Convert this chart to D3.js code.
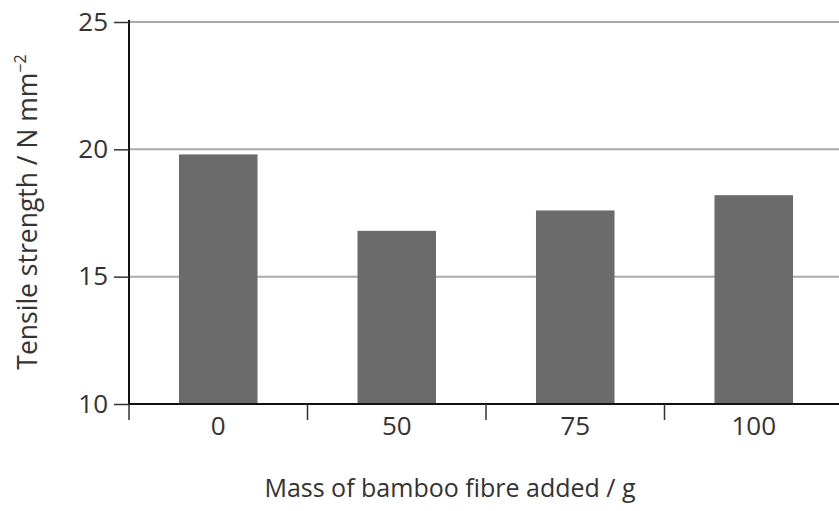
<!DOCTYPE html>
<html>
<head>
<meta charset="utf-8">
<script src="https://cdn.jsdelivr.net/npm/d3@7"></script>
<style>
  body { margin: 0; background: #fff; }
  svg { display: block; font-family: 'Open Sans', sans-serif; }
  .tick text { fill: #333; }
</style>
</head>
<body>
<svg></svg>
<script>
const masses = ['0', '50', '75', '100'];
const strengths = [19.8, 16.8, 17.6, 18.2];
const yTicks = [10, 15, 20, 25];

const svg = d3.select('svg')
	.attr('width', 839)
	.attr('height', 511);

let plotLeft = 129,
	plotRight = 843,
	plotTop = 22,
	plotBottom = 404;

const xScale = d3.scaleBand()
	.domain(masses)
	.range([plotLeft, plotRight])
	.paddingInner(0.56)
	.paddingOuter(0.28);

const yScale = d3.scaleLinear()
	.domain([10, 25])
	.range([plotBottom, plotTop]);

// grey gridlines
svg.append('g')
	.selectAll('line')
	.data(yTicks.slice(1))
	.enter().append('line')
	.attr('x1', plotLeft)
	.attr('x2', 839)
	.attr('y1', d => yScale(d))
	.attr('y2', d => yScale(d))
	.attr('stroke', '#aaaaaa')
	.attr('stroke-width', 2);

// bars
svg.append('g')
	.selectAll('rect')
	.data(masses)
	.enter().append('rect')
	.attr('x', d => xScale(d))
	.attr('width', xScale.bandwidth())
	.attr('y', (d, i) => yScale(strengths[i]))
	.attr('height', (d, i) => plotBottom - yScale(strengths[i]))
	.attr('fill', '#6b6b6b');

// y axis
const yAxis = d3.axisLeft(yScale)
	.tickValues(yTicks)
	.tickSize(15)
	.tickPadding(6);
const yAxisG = svg.append('g')
	.attr('transform', `translate(${plotLeft}, 0)`)
	.call(yAxis);
yAxisG.select('.domain').attr('stroke', '#111').attr('stroke-width', 2)
	.attr('d', `M0,${plotTop - 2}V${plotBottom}`);
yAxisG.selectAll('.tick line').attr('stroke', '#333').attr('stroke-width', 1.5);
yAxisG.selectAll('.tick text').attr('font-size', 26).attr('font-family', 'Open Sans');

// x axis: labels centred under bars, ticks on band boundaries
const xAxis = d3.axisBottom(xScale)
	.tickSize(0)
	.tickPadding(13);
const xAxisG = svg.append('g')
	.attr('transform', `translate(0, ${plotBottom})`)
	.call(xAxis);
xAxisG.select('.domain').attr('stroke', '#111').attr('stroke-width', 2)
	.attr('d', `M${plotLeft},0H839`);
xAxisG.selectAll('.tick text').attr('font-size', 26).attr('font-family', 'Open Sans');

const step = xScale.step();
svg.append('g')
	.selectAll('line')
	.data(masses)
	.enter().append('line')
	.attr('x1', d => xScale(d) - step * xScale.paddingOuter())
	.attr('x2', d => xScale(d) - step * xScale.paddingOuter())
	.attr('y1', plotBottom)
	.attr('y2', plotBottom + 16)
	.attr('stroke', '#333')
	.attr('stroke-width', 1.5);

// axis titles
svg.append('text')
	.attr('x', 450)
	.attr('y', 497)
	.attr('text-anchor', 'middle')
	.attr('font-size', 25)
	.attr('fill', '#333')
	.text('Mass of bamboo fibre added / g');

const yTitle = svg.append('text')
	.attr('transform', 'translate(37, 212) rotate(-90)')
	.attr('text-anchor', 'middle')
	.attr('font-size', 26.5)
	.attr('fill', '#333');
yTitle.append('tspan').text('Tensile strength / N mm');
yTitle.append('tspan')
	.attr('font-size', 16)
	.attr('dy', -11)
	.text('\u22122');
</script>
</body>
</html>
